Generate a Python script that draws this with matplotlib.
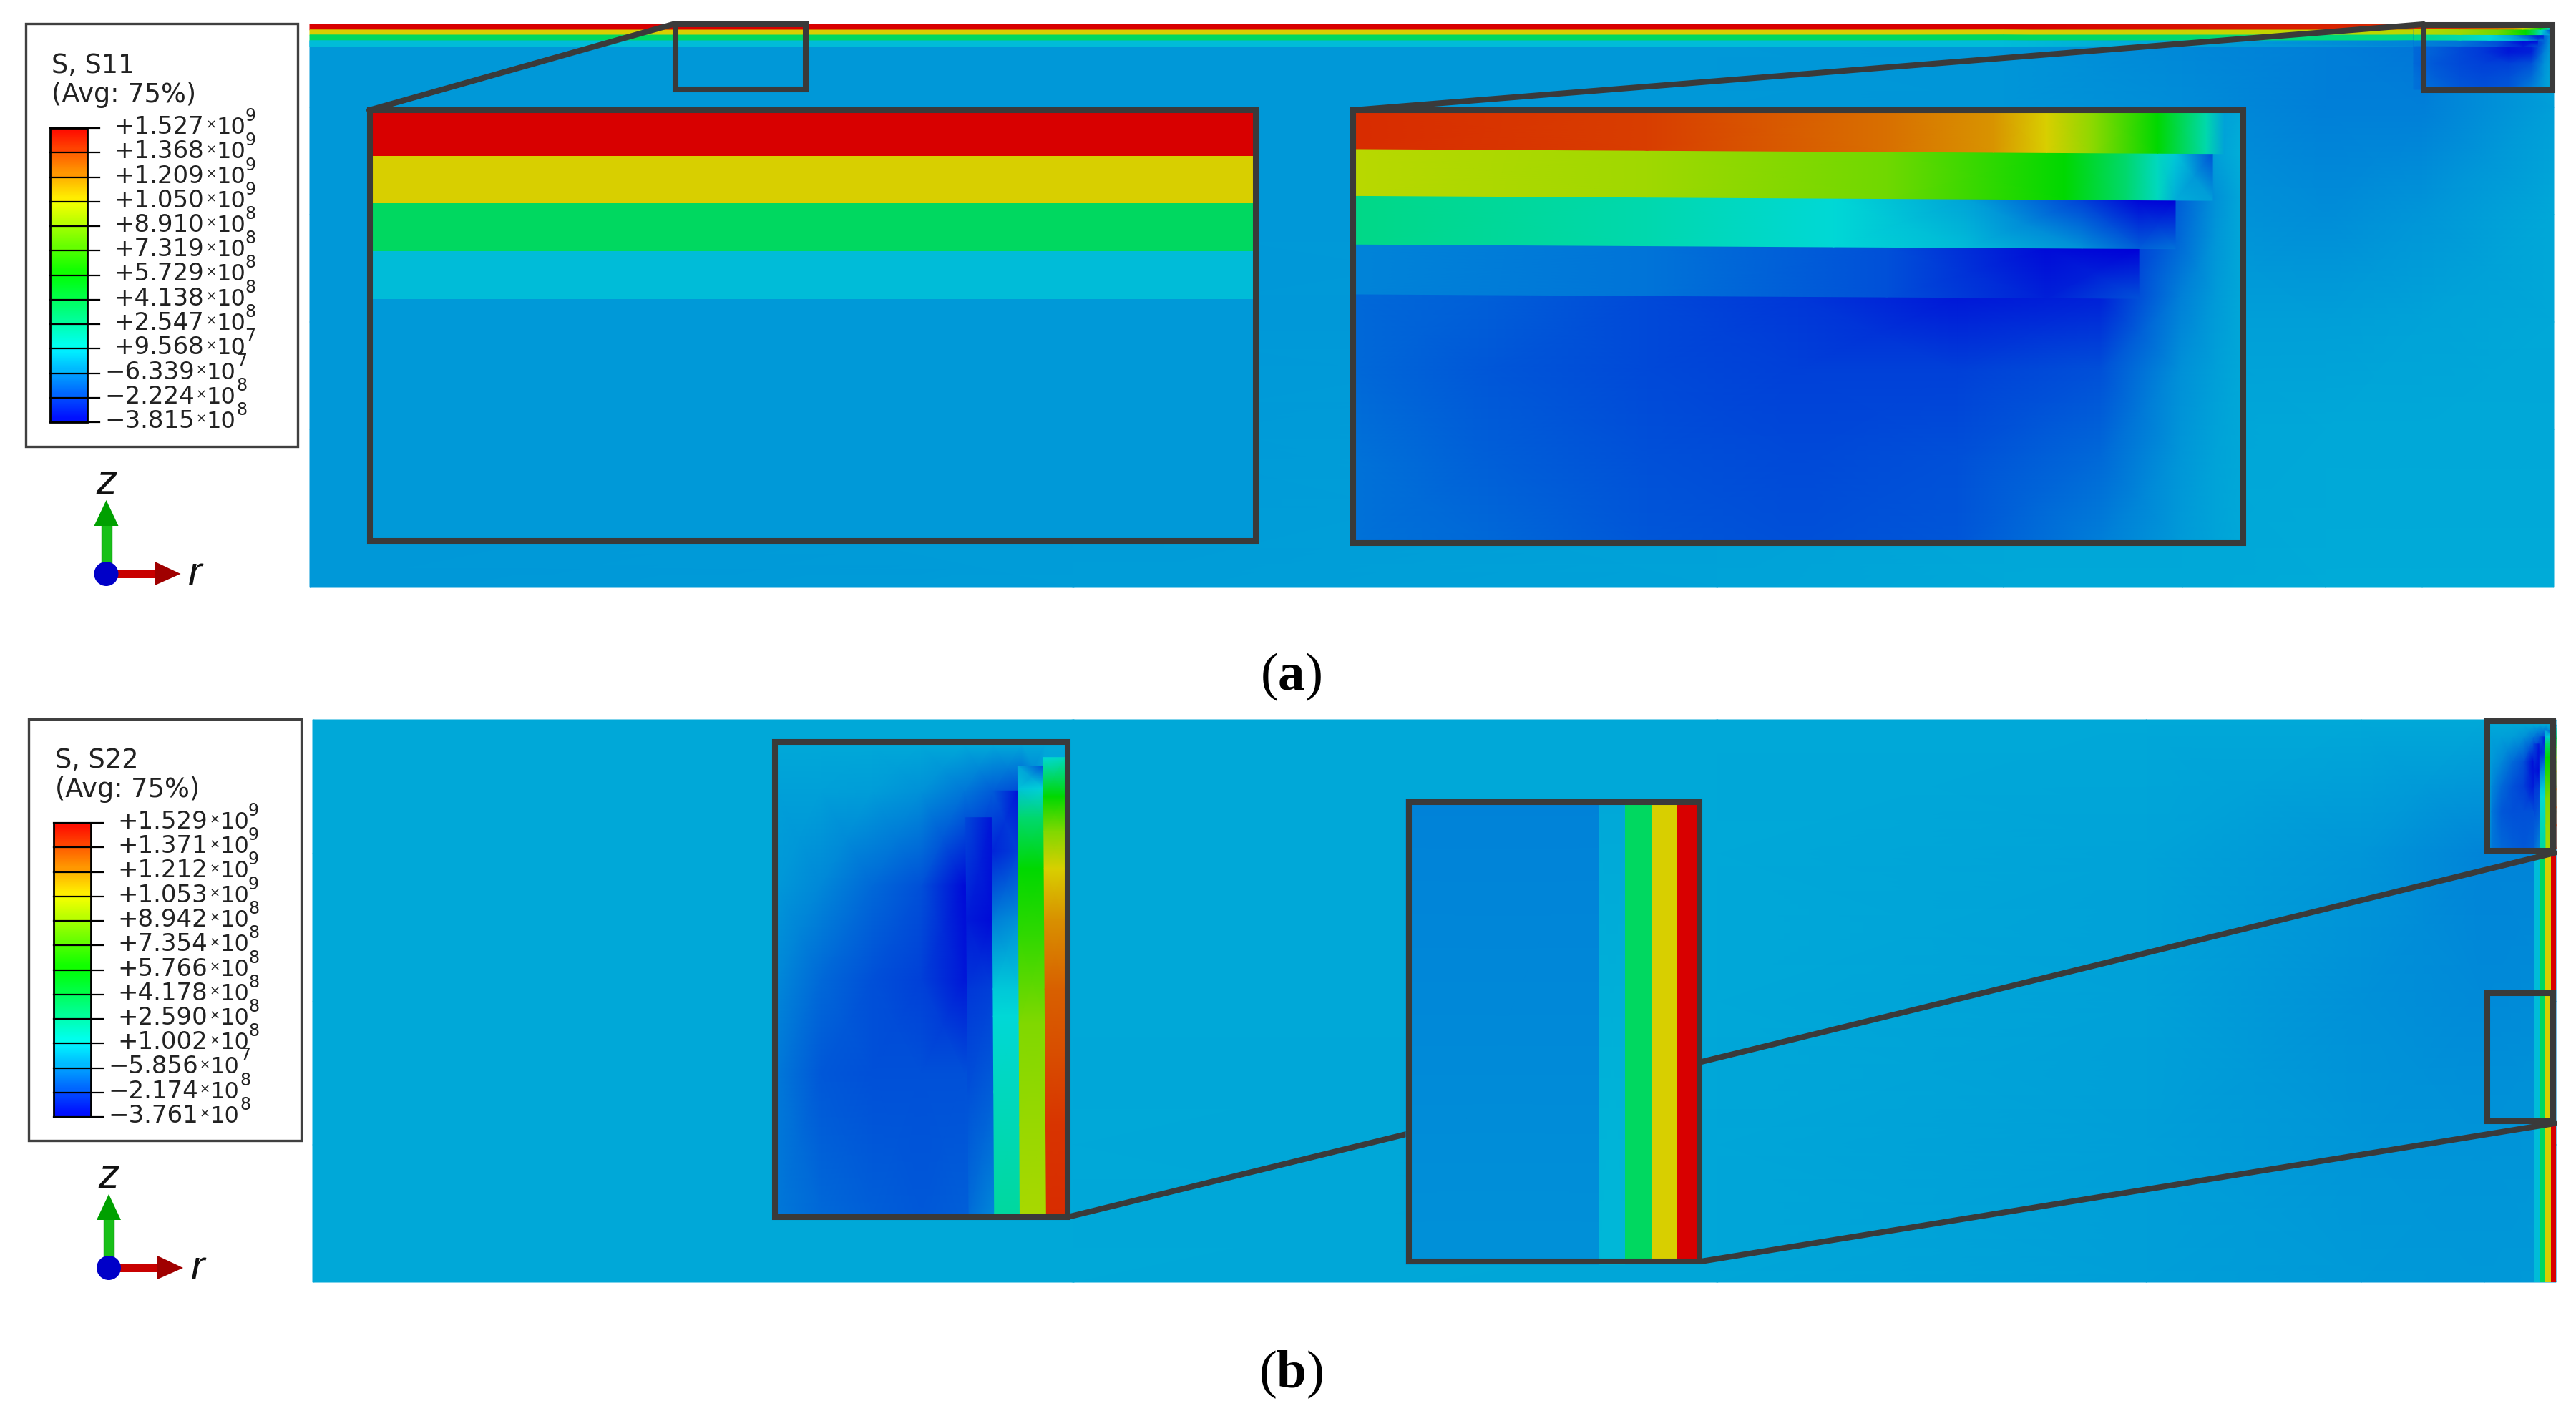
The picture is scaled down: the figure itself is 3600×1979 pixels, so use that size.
import numpy as np
import matplotlib
matplotlib.use("Agg")
import matplotlib.pyplot as plt
from matplotlib.colors import LinearSegmentedColormap, Normalize
from matplotlib.patches import Rectangle, Polygon, Ellipse

plt.rcParams['mathtext.fontset'] = 'custom'
plt.rcParams['mathtext.bf'] = 'Liberation Serif:bold'
plt.rcParams['mathtext.rm'] = 'Liberation Serif'

# ---------- legend data ----------
s11_title = "S, S11"
s22_title = "S, S22"
avg_title = "(Avg: 75%)"
s11_mant = ["+1.527", "+1.368", "+1.209", "+1.050", "+8.910", "+7.319", "+5.729",
            "+4.138", "+2.547", "+9.568", "\u22126.339", "\u22122.224", "\u22123.815"]
s11_exp = [9, 9, 9, 9, 8, 8, 8, 8, 8, 7, 7, 8, 8]
s22_mant = ["+1.529", "+1.371", "+1.212", "+1.053", "+8.942", "+7.354", "+5.766",
            "+4.178", "+2.590", "+1.002", "\u22125.856", "\u22122.174", "\u22123.761"]
s22_exp = [9, 9, 9, 9, 8, 8, 8, 8, 8, 8, 7, 8, 8]

# ---------- stress values, unit 1e8 ----------
# (a) far-field stacked layers, top to bottom
a_far_s = [15.3, 10.7, 3.6, 0.35, -0.44]
# (b) far-field inset: substrate and cyan layer, top and bottom of the inset, then flat layers
b_far_sub = [-.95, -.6]
b_far_cyan = [-.1, .25]
b_far_s = [3.6, 10.7, 15.3]
# (b) far-field layers in the main panel, left to right
b_strip_s = [0.35, 3.6, 10.7, 15.3]

# (a) end-zone layers: stress along the layer (u = fraction of the inset width)
a_b1_u = [0, .33, .6, .72, .78, .83, .905, .96, .98]
a_b1_top = [14.3, 13.9, 12.8, 12.0, 10.7, 8.9, 5.73, 1.9, -.2]
a_b1_bot = [14.3, 13.9, 12.8, 12.0, 10.7, 8.9, 5.73, 1.9, -.2]
a_b2_u = [0, .33, .6, .8, .87, .905, .925, .967]
a_b2_top = [9.8, 9.26, 8.2, 5.73, 3.3, 1.5, .6, -2.05]
a_b2_bot = [9.8, 9.26, 8.2, 5.73, 3.3, 1.5, .0, -.3]
a_b3_u = [0, .33, .54, .69, .82, .884, .925]
a_b3_top = [2.75, 1.88, 1.0, -.2, -2.4, -3.7, -3.8]
a_b3_bot = [2.75, 1.88, 1.0, .3, -.6, -1.7, -1.3]
a_b4_u = [0, .33, .6, .78, .884]
a_b4_top = [-.9, -1.25, -2.05, -3.6, -3.8]
a_b4_bot = [-.9, -1.25, -2.05, -3.1, -2.0]
# (a) end-zone substrate
a_sub_u = [0, .15, .33, .5, .68, .84, .93, .97, 1]
a_sub_v = [0, .1, .2, .3, .43, .6, .8, 1]
a_sub_s = [[-1.5, -1.7, -2.2, -2.6, -3.3, -3.1, -.6, -.3, -.1],
           [-1.5, -1.7, -2.2, -2.6, -3.3, -3.1, -1.7, -.3, .07],
           [-1.5, -1.7, -2.2, -2.6, -3.3, -3.1, -1.7, -.6, -.1],
           [-1.5, -1.7, -2.2, -2.6, -3.3, -3.1, -1.5, -.5, -.1],
           [-1.5, -1.7, -2.2, -2.6, -3.3, -3.1, -1.0, -.4, -.1],
           [-1.5, -1.9, -2.2, -2.4, -2.4, -2.05, -.63, -.3, -.1],
           [-1.3, -1.7, -2.05, -2.2, -2.05, -1.5, -.5, -.2, -.1],
           [-1.3, -1.5, -1.9, -2.05, -1.9, -1.0, -.4, -.2, -.1]]

# (b) end-zone layers: stress along the layer (v = fraction of the inset height)
b_b1_v = [.027, .11, .184, .264, .374, .52, .666, .81, 1]
b_b1_l = [1.0, 5.73, 8.56, 10.7, 12.09, 13.15, 13.59, 14.12, 14.3]
b_b1_r = [1.5, 5.73, 8.56, 10.7, 12.09, 13.15, 13.59, 14.12, 14.3]
b_b2_v = [.045, .093, .155, .264, .41, .593, .81, 1]
b_b2_l = [-.1, .5, 3.3, 5.73, 6.8, 8.56, 9.09, 9.44]
b_b2_r = [-2.0, .8, 3.3, 5.73, 6.8, 8.56, 9.09, 9.44]
b_b3_v = [.098, .228, .374, .52, .578, .739, 1]
b_b3_l = [-1.7, -3.0, -1.0, .6, 1.0, 1.53, 2.23]
b_b3_r = [-3.4, -2.4, -.63, .6, 1.0, 1.53, 2.23]
b_b4_v = [.155, .374, .52, .739, 1]
b_b4_l = [-2.2, -3.2, -2.6, -2.05, -1.4]
b_b4_r = [-3.4, -3.6, -2.4, -1.7, -.8]
# (b) end-zone substrate
b_sub_u = [0, .15, .33, .5, .65, .75, .85, .93, 1]
b_sub_v = [0, .1, .3, .5, .7, 1]
b_sub_s = [[-.1, -.1, -.1, -.1, -.1, -.1, -.1, -.1, -.1],
           [-.28, -.28, -.35, -.6, -1.2, -1.8, -2.2, -.3, -.1],
           [-.46, -.8, -1.5, -2.05, -3.6, -3.6, -3.5, -1, -.1],
           [-.8, -1.5, -2.05, -2.4, -3.3, -3.3, -2.8, -2, -.1],
           [-1.16, -1.87, -2.05, -2.05, -2.05, -2.05, -2.05, -2, -.1],
           [-1.16, -1.5, -1.7, -1.87, -1.7, -1.7, -1.7, -1.7, -.1]]

# main-panel fields
a_main_x = [433, 1500, 2400, 2800, 3050, 3250, 3385, 3569]
a_main_y = [57, 150, 300, 450, 600, 821]
a_main_s = [[-.46, -.46, -.46, -.5, -.8, -1.0, -1.2, -.1],
            [-.46, -.46, -.46, -.5, -.7, -1.0, -1.0, -.3],
            [-.46, -.46, -.46, -.4, -.5, -.7, -.5, -.1],
            [-.46, -.46, -.4, -.3, -.3, -.3, -.2, -.1],
            [-.46, -.4, -.3, -.2, -.15, -.1, -.1, -.1],
            [-.46, -.35, -.2, -.1, -.1, -.05, -.05, -.05]]
b_main_x = [437, 1500, 2400, 3000, 3300, 3472, 3572]
b_main_y = [1006, 1193, 1400, 1600, 1792]
b_main_s = [[-.1, -.1, -.1, -.1, -.1, -.1, -.1],
            [-.1, -.1, -.1, -.2, -.5, -.9, -.9],
            [-.1, -.1, -.1, -.25, -.6, -.75, -.7],
            [-.1, -.1, -.15, -.3, -.5, -.55, -.5],
            [-.1, -.1, -.15, -.3, -.4, -.45, -.4]]

# ---------- colour scales ----------
DARK = "#3a3a3a"
muted = LinearSegmentedColormap.from_list(
    "muted", [(0, "#0000d8"), (.25, "#00d8d8"), (.5, "#00d800"), (.75, "#d8d800"), (1, "#d80000")], N=2048)
norm = Normalize(-3.815, 15.27)
bright = LinearSegmentedColormap.from_list(
    "bright", [(0, "#0000ff"), (.25, "#00ffff"), (.5, "#00ff00"), (.75, "#ffff00"), (1, "#ff0000")], N=1024)

fig = plt.figure(figsize=(36, 19.79), dpi=100)
ax = fig.add_axes([0, 0, 1, 1])


def mesh(X, Y, C, z):
    ax.pcolormesh(X, Y, np.asarray(C, float), cmap=muted, norm=norm, shading='gouraud', zorder=z)


def field(x, y, s, z):
    X, Y = np.meshgrid(np.asarray(x, float), np.asarray(y, float))
    mesh(X, Y, s, z)


def flat_rows(x0, x1, y_edges, s, z):
    ax.pcolormesh([x0, x1], y_edges, np.asarray(s, float).reshape(-1, 1), cmap=muted, norm=norm,
                  shading='flat', zorder=z, antialiased=False)


def flat_cols(x_edges, y0, y1, s, z):
    ax.pcolormesh(x_edges, [y0, y1], np.asarray(s, float).reshape(1, -1), cmap=muted, norm=norm,
                  shading='flat', zorder=z, antialiased=False)


def a_end_zone(x0, x1, y0, y1, f, z):
    """End zone of the layered plate in panel (a): inset extent in px, f = vertical layer scale."""
    w, h = x1 - x0, y1 - y0
    sx = [x0 + w * u for u in a_sub_u]
    sy = [y0 + h * v for v in a_sub_v]
    field(sx, sy, a_sub_s, z)
    edges = [(0, 0), (.089, .1005), (.197, .2085), (.309, .3205), (.424, .4355)]
    bands = [(a_b4_u, a_b4_top, a_b4_bot, 3), (a_b3_u, a_b3_top, a_b3_bot, 2),
             (a_b2_u, a_b2_top, a_b2_bot, 1), (a_b1_u, a_b1_top, a_b1_bot, 0)]
    for u, st, sb, i in bands:
        u = np.asarray(u)
        tp = edges[i][0] + (edges[i][1] - edges[i][0]) * u
        bt = edges[i + 1][0] + (edges[i + 1][1] - edges[i + 1][0]) * u
        X = np.vstack([x0 + w * u, x0 + w * u])
        Y = np.vstack([y0 + h * tp * f, y0 + h * bt * f])
        mesh(X, Y, [st, sb], z + .1)


def b_end_zone(x0, x1, y0, y1, z):
    """End zone of the layered plate in panel (b)."""
    w, h = x1 - x0, y1 - y0
    sx = [x0 + w * u for u in b_sub_u]
    sy = [y0 + h * v for v in b_sub_v]
    field(sx, sy, b_sub_s, z)
    edges = [(1, 1), (.925, .936), (.836, .844), (.745, .755), (.653, .666)]
    bands = [(b_b4_v, b_b4_l, b_b4_r, 3), (b_b3_v, b_b3_l, b_b3_r, 2),
             (b_b2_v, b_b2_l, b_b2_r, 1), (b_b1_v, b_b1_l, b_b1_r, 0)]
    for v, sl, sr, i in bands:
        v = np.asarray(v)
        rt = edges[i][0] + (edges[i][1] - edges[i][0]) * v
        lt = edges[i + 1][0] + (edges[i + 1][1] - edges[i + 1][0]) * v
        X = np.column_stack([x0 + w * lt, x0 + w * rt])
        Y = np.column_stack([y0 + h * v, y0 + h * v])
        mesh(X, Y, np.column_stack([sl, sr]), z + .1)


def frame(x0, x1, y0, y1, z, lw=5.8):
    """x0..y1 are the outer edges of the frame, in px."""
    p = lw * 100 / 72 / 2
    ax.add_patch(Rectangle((x0 + p, y0 + p), x1 - x0 - 2 * p, y1 - y0 - 2 * p, fill=False,
                           ec=DARK, lw=lw, joinstyle='miter', zorder=z))


def connector(p0, p1, z, lw=5.8):
    ax.plot([p0[0], p1[0]], [p0[1], p1[1]], color=DARK, lw=lw, solid_capstyle='round', zorder=z)


def legend(x0, y_top, y_bot, box, title, mant, exps):
    bx0, by0, bx1, by1 = box
    ax.add_patch(Rectangle((bx0, by0), bx1 - bx0, by1 - by0, fc='white', ec="#404040", lw=2.4, zorder=4))
    ticks = np.linspace(y_top, y_bot, len(mant))
    # colour bar with a soft ramp inside each of its discrete intervals
    for i in range(len(mant) - 1):
        frac_hi = 1 - i / (len(mant) - 1)
        frac_lo = 1 - (i + 1) / (len(mant) - 1)
        mid = .5 * (frac_hi + frac_lo)
        d = .3 * (frac_hi - frac_lo)
        ax.imshow(np.array([[mid + d], [mid], [mid - d]]), cmap=bright, vmin=0, vmax=1, aspect='auto',
                  extent=(x0, x0 + 52, ticks[i + 1], ticks[i]), interpolation='bilinear', zorder=5)
    ax.add_patch(Rectangle((x0, y_top), 52, y_bot - y_top, fill=False, ec='black', lw=2, zorder=6))
    tx = dict(family='DejaVu Sans', color='#222222', zorder=7)
    ax.text(x0 + 2, y_top - 77, title, fontsize=26.5, ha='left', va='baseline', **tx)
    ax.text(x0 + 2, y_top - 36, avg_title, fontsize=26.5, ha='left', va='baseline', **tx)
    for t, m, e in zip(ticks, mant, exps):
        ax.plot([x0, x0 + 69], [t, t], color='black', lw=1.6, zorder=6)
        neg = m.startswith('\u2212')
        ax.text(x0 + (202 if neg else 215), t + 8, m, fontsize=24.5, ha='right', va='baseline', **tx)
        ax.text(x0 + (211 if neg else 225), t - 4, "\u00d7", fontsize=13, ha='center', va='center', **tx)
        ax.text(x0 + (218 if neg else 232), t + 8, "10", fontsize=23, ha='left', va='baseline', **tx)
        ax.text(x0 + (260 if neg else 272), t - 10, str(e), fontsize=17, ha='left', va='baseline', **tx)


def triad(ox, oy):
    ax.add_patch(Rectangle((ox - 7, oy - 70), 14, 70, fc="#18c018", ec="#109010", lw=1, zorder=5))
    ax.add_patch(Polygon([(ox - 17, oy - 67), (ox + 17, oy - 67), (ox, oy - 103)], fc="#00a000", ec='none', zorder=5))
    ax.add_patch(Rectangle((ox, oy - 5), 70, 11, fc="#c80000", ec='none', zorder=5))
    ax.add_patch(Polygon([(ox + 68, oy - 17), (ox + 68, oy + 16), (ox + 104, oy)], fc="#a00000", ec='none', zorder=5))
    ax.add_patch(Ellipse((ox, oy), 34, 34, fc="#0000c8", ec='none', zorder=6))
    ax.text(ox, oy - 112, "z", family='Liberation Sans', style='italic', fontsize=42, ha='center', va='baseline', color='#111111')
    ax.text(ox + 114, oy + 16, "r", family='Liberation Sans', style='italic', fontsize=42, ha='left', va='baseline', color='#111111')


# ---------- panel (a) ----------
field(a_main_x, a_main_y, a_main_s, 1)
s_x = [433, 2800, 3373]
stack_y = [34, 42, 49, 57, 65]
for i, (far, near) in enumerate(zip(a_far_s[:4], [a_b1_top[0], a_b2_top[0], a_b3_top[0], a_b4_top[0]])):
    X = np.vstack([s_x, s_x])
    Y = np.array([[stack_y[i]] * 3, [stack_y[i + 1]] * 3], float)
    mesh(X, Y, [[far, far, near], [far, far, near]], 2)
a_end_zone(3373, 3569, 34, 125, .78, 2)
frame(940, 1130, 30, 129, 3)
frame(3383, 3571, 31, 130, 3)
connector((944, 33), (516, 154), 3)
connector((3387, 34), (1891, 154), 3)

flat_rows(517, 1755, [154, 218, 284, 351, 418, 756], a_far_s, 5)
frame(513, 1759, 150, 760, 6)
a_end_zone(1893, 3133, 154, 760, 1.0, 5)
frame(1887, 3139, 150, 763, 6)

# ---------- panel (b) ----------
field(b_main_x, b_main_y, b_main_s, 1)
flat_cols([3542, 3550, 3557, 3565, 3572], 1186, 1792, b_strip_s, 2)
b_end_zone(3482, 3572, 1013, 1186, 2)
frame(3472, 3572, 1004, 1193, 3)
frame(3472, 3572, 1384, 1571, 3)
connector((1492, 1701), (3570, 1192), 3)
connector((2377, 1763), (3570, 1570), 3)

b_end_zone(1087, 1488, 1041, 1697, 5)
frame(1079, 1496, 1033, 1705, 6)
sub_rows = np.column_stack([b_far_sub, b_far_sub])
field([1965, 2235], [1117, 1767], sub_rows, 5)
cyan_rows = np.column_stack([b_far_cyan, b_far_cyan])
field([2235, 2271], [1117, 1767], cyan_rows, 5)
flat_cols([2271, 2308, 2343, 2379], 1117, 1767, b_far_s, 5)
frame(1965, 2379, 1117, 1767, 6)

# ---------- legends and triads ----------
legend(70, 179, 590, (36, 33, 416, 624), s11_title, s11_mant, s11_exp)
legend(75, 1150, 1561, (40, 1005, 421, 1594), s22_title, s22_mant, s22_exp)
triad(148.5, 802)
triad(152, 1772)

# ---------- captions ----------
cap = dict(family='Liberation Serif', fontsize=54, ha='center', va='center', color='black')
ax.text(1804, 946, r"($\mathbf{a}$)", **cap)
ax.text(1804, 1921, r"($\mathbf{b}$)", **cap)

ax.set_xlim(0, 3600)
ax.set_ylim(1979, 0)
ax.axis('off')
fig.savefig("out.png", dpi=100, facecolor='white')
